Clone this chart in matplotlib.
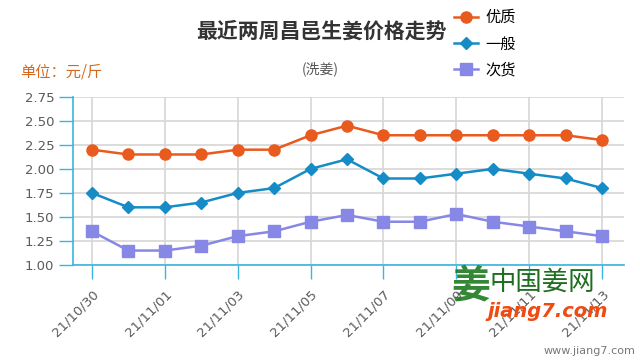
import matplotlib
matplotlib.use("Agg")
import matplotlib.pyplot as plt

plt.rcParams['font.family'] = ['Noto Sans CJK SC', 'DejaVu Sans']

dates = ["21/10/30", "21/10/31", "21/11/01", "21/11/02", "21/11/03", "21/11/04",
         "21/11/05", "21/11/06", "21/11/07", "21/11/08", "21/11/09", "21/11/10",
         "21/11/11", "21/11/12", "21/11/13"]
youzhi = [2.20, 2.15, 2.15, 2.15, 2.20, 2.20, 2.35, 2.45, 2.35, 2.35, 2.35, 2.35, 2.35, 2.35, 2.30]
yiban = [1.75, 1.60, 1.60, 1.65, 1.75, 1.80, 2.00, 2.10, 1.90, 1.90, 1.95, 2.00, 1.95, 1.90, 1.80]
cihuo = [1.35, 1.15, 1.15, 1.20, 1.30, 1.35, 1.45, 1.52, 1.45, 1.45, 1.53, 1.45, 1.40, 1.35, 1.30]
yticks = [1.00, 1.25, 1.50, 1.75, 2.00, 2.25, 2.50, 2.75]

c_orange = '#E95A1E'
c_blue = '#168CC6'
c_purple = '#8787E6'
axis_blue = '#3BB4E0'

fig = plt.figure(figsize=(6.4, 3.6), dpi=100)
ax = fig.add_axes([0.114, 0.264, 0.861, 0.467])

x = list(range(len(dates)))
l1, = ax.plot(x, youzhi, color=c_orange, lw=1.8, marker='o', ms=8, label='优质', zorder=5)
l2, = ax.plot(x, yiban, color=c_blue, lw=1.8, marker='D', ms=6, label='一般', zorder=5)
l3, = ax.plot(x, cihuo, color=c_purple, lw=1.8, marker='s', ms=8, label='次货', zorder=5)

ax.set_xlim(-0.52, 14.6)
ax.set_ylim(1.0, 2.75)
ax.set_yticks(yticks)
ax.set_yticklabels(["%.2f" % v for v in yticks], color='#5a5a5a', fontsize=9.5,
                   family='DejaVu Sans')
ax.set_xticks(x[::2])
ax.set_xticklabels(dates[::2], rotation=45, ha='right', rotation_mode='anchor',
                   color='#5a5a5a', fontsize=9.5, family='DejaVu Sans')
ax.tick_params(axis='both', color=axis_blue, length=10, width=1)
ax.tick_params(axis='x', pad=6)

ax.grid(True, color='#D6D6D6', lw=1.2)
ax.set_axisbelow(True)
for s in ['top', 'right']:
    ax.spines[s].set_visible(False)
for s in ['left', 'bottom']:
    ax.spines[s].set_color(axis_blue)
    ax.spines[s].set_linewidth(1.2)

fig.text(0.502, 0.912, "最近两周昌邑生姜价格走势", ha='center', va='center',
         fontsize=15, fontweight='heavy', color='#333333')
fig.text(0.50, 0.81, "(洗姜)", ha='center', va='center', fontsize=10, color='#555555')
fig.text(0.031, 0.80, "单位：元/斤", ha='left', va='center', fontsize=11, color='#D2691E')

fig.legend(handles=[l1, l2, l3], loc='upper left', bbox_to_anchor=(0.695, 1.0),
           frameon=False, fontsize=11, labelspacing=0.6, handlelength=1.6,
           handletextpad=0.45, borderaxespad=0.2)

# watermark
fig.text(0.735, 0.205, "姜", fontsize=28, color='#1E7A1E', ha='center', va='center',
         fontweight='bold', alpha=0.9)
fig.text(0.765, 0.215, "中国姜网", fontsize=19, color='#1E6E1E', ha='left', va='center')
fig.text(0.762, 0.135, "jiang7.com", fontsize=14, color='#F04A10', ha='left', va='center',
         fontweight='bold', style='italic', family='DejaVu Sans')
fig.text(0.993, 0.025, "www.jiang7.com", fontsize=8, color='#777777', ha='right',
         va='center', family='DejaVu Sans')

fig.savefig("out.png", dpi=100)
